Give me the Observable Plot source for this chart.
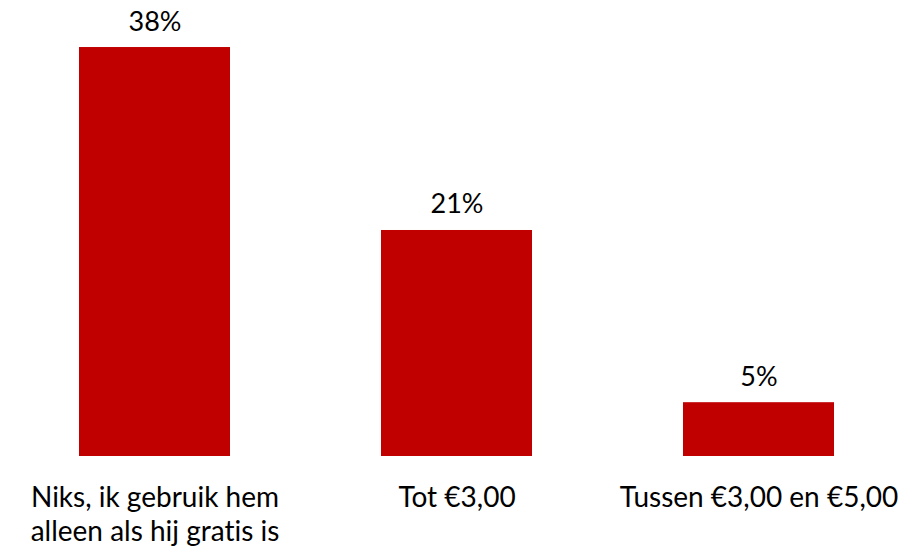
<!DOCTYPE html>
<html>
<head>
<meta charset="utf-8">
<script src="https://cdn.jsdelivr.net/npm/d3@7"></script>
<script src="https://cdn.jsdelivr.net/npm/@observablehq/plot@0.6"></script>
<style>
  html, body { margin: 0; padding: 0; background: #fff; }
  svg text { font-variant-ligatures: none; font-feature-settings: "liga" 0, "clig" 0; }
</style>
</head>
<body>
<div id="chart"></div>
<script>
const categories = ["Niks, ik gebruik hem\nalleen als hij gratis is", "Tot €3,00", "Tussen €3,00 en €5,00"];
const values = [38, 21, 5];
const valueLabels = ["38%", "21%", "5%"];

const data = categories.map((c, i) => ({category: c, value: values[i], label: valueLabels[i]}));

const chart = Plot.plot({
  width: 917,
  height: 551,
  marginTop: 25.5,
  marginBottom: 95,
  marginLeft: 3,
  marginRight: 6.5,
  style: {fontFamily: "Lato, sans-serif", fontSize: "28px", color: "#000", background: "#fff"},
  x: {domain: categories, paddingInner: 0.5, paddingOuter: 0.25, label: null},
  y: {domain: [0, 40], axis: null},
  marks: [
    Plot.barY(data, {x: "category", y: "value", fill: "#C00000"}),
    Plot.text(data, {x: "category", y: "value", text: "label", lineAnchor: "bottom", dy: -17, fontSize: 27, fill: "#000"}),
    Plot.axisX({tickSize: 0, tickPadding: 26, fontSize: 28, lineHeight: 1.22, lineWidth: 100, fill: "#000", label: null})
  ]
});
document.getElementById("chart").appendChild(chart);
</script>
</body>
</html>
